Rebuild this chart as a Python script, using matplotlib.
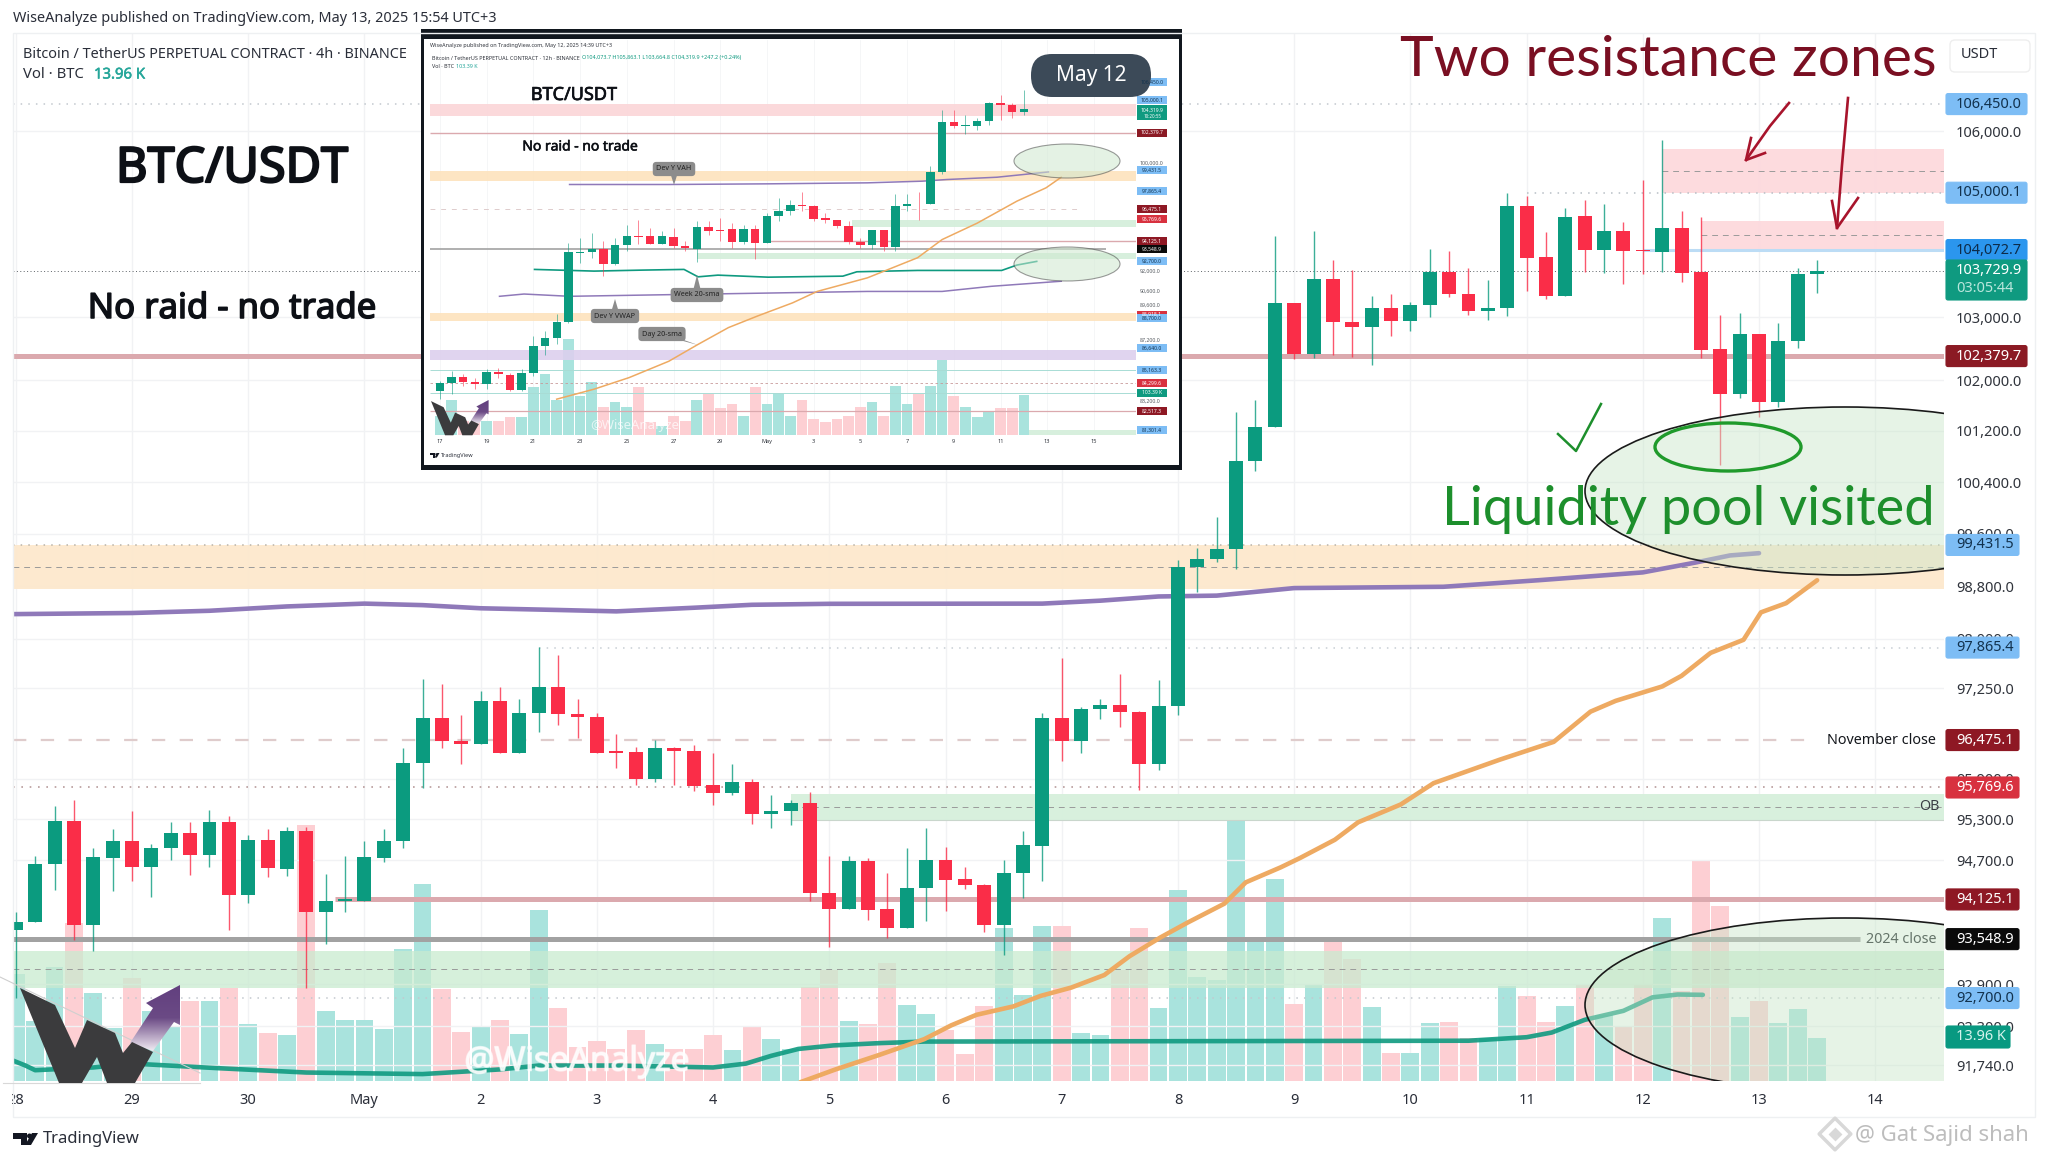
import numpy as np
import matplotlib
matplotlib.use('Agg')
import matplotlib.pyplot as plt
import matplotlib.patheffects as pe
from matplotlib.patches import Rectangle, Ellipse, Polygon, FancyBboxPatch
from matplotlib.colors import LinearSegmentedColormap

plt.rcParams['font.family'] = ['Noto Sans', 'DejaVu Sans']

W, H = 2048, 1160

# main chart, 4h bars, bar 0 is the 29 April tick
first_bar = -6
opens = [93678, 93800, 94636, 95278, 93757, 94736, 94979, 94593, 94873, 95091, 94779, 95253, 94188, 94991, 94574, 95128,
         93941, 94107, 94107, 94736, 94979, 96132, 96805, 96463, 96419, 97059, 96288, 96875, 97275, 96869, 96824, 96300,
         96300, 95895, 96356, 96313, 95807, 95683, 95845, 95371, 95415, 95539, 94225, 93990, 94692, 93984, 93708, 94287,
         94698, 94418, 94337, 93757, 94512, 94910, 96799, 96456, 96939, 97002, 96888, 96119, 96989, 99098, 99214, 99368,
         100736, 101258, 103227, 102412, 103600, 102913, 102849, 103142, 102940, 103185, 103723, 103371, 103094, 103142,
         104779, 103958, 103328, 104619, 104066, 104379, 104066, 104048, 104434, 103724, 102484, 101785, 102737, 101650,
         102613, 103680]
closes = [93800, 94642, 95278, 93757, 94742, 94979, 94593, 94879, 95091, 94779, 95253, 94188, 94991, 94580, 95128, 93941,
          94107, 94125, 94742, 94979, 96138, 96805, 96456, 96419, 97059, 96288, 96881, 97275, 96862, 96824, 96288, 96288,
          95895, 96356, 96306, 95795, 95683, 95845, 95371, 95421, 95539, 94225, 93990, 94692, 93977, 93708, 94293, 94698,
          94412, 94331, 93757, 94518, 94916, 96799, 96456, 96945, 97002, 96888, 96119, 96989, 99098, 99214, 99374, 100736,
          101258, 103227, 102412, 103606, 102913, 102849, 103142, 102940, 103185, 103723, 103371, 103094, 103147, 104779,
          103947, 103328, 104613, 104072, 104379, 104054, 104054, 104434, 103712, 102472, 101785, 102737, 101650, 102613,
          103693, 103730]
highs = [93941, 94761, 95490, 95589, 94873, 95153, 95427, 94935, 95265, 95265, 95434, 95353, 95072, 95153, 95184, 95184,
         94499, 94761, 94979, 95153, 96350, 97389, 97319, 96856, 97205, 97275, 97084, 97878, 97751, 97097, 96875, 96570,
         96369, 96475, 96369, 96400, 96275, 96113, 95901, 95652, 95589, 95701, 94761, 94767, 94730, 94505, 94879, 95172,
         94892, 94605, 94356, 94705, 95122, 96875, 97713, 96970, 97084, 97459, 96907, 97376, 99207, 99380, 99863, 101492,
         101692, 104304, 103227, 104373, 103915, 103755, 103334, 103361, 103238, 104090, 104064, 103782, 103595, 104992,
         104944, 104368, 104747, 104877, 104809, 104533, 105200, 105860, 104705, 104613, 103030, 103061, 102737, 102910,
         103785, 103920]
lows = [92700, 93800, 94262, 93543, 93372, 94250, 94387, 94156, 94705, 94480, 94605, 93684, 94076, 94456, 94468, 92850,
        93483, 93941, 94107, 94674, 94873, 95757, 96356, 96119, 96419, 96288, 96288, 96589, 96704, 96513, 96275, 96063,
        95807, 95851, 95807, 95714, 95515, 95652, 95228, 95178, 95209, 94107, 93440, 93990, 93831, 93561, 93708, 93818,
        93959, 94275, 93653, 93325, 94144, 94387, 96163, 96275, 96793, 96666, 95726, 96025, 96843, 98705, 99169, 99060,
        100576, 101258, 102333, 102349, 102396, 102360, 102240, 102700, 102785, 103000, 103318, 103040, 102945, 103014,
        103408, 103291, 103328, 103724, 103712, 103527, 103681, 103724, 103564, 102350, 100666, 101723, 101416, 101584,
        102509, 103381]
volumes = [34.6, 19.4, 36.7, 50.9, 28.2, 17.0, 33.1, 22.4, 17.7, 25.8, 25.8, 29.9, 18.3, 15.5, 14.9, 82.6,
           22.7, 19.6, 19.8, 16.6, 42.4, 63.6, 29.5, 15.8, 17.7, 19.8, 15.2, 55.0, 23.5, 10.9, 13.0, 10.2,
           16.3, 12.0, 10.2, 10.4, 14.9, 10.0, 17.4, 13.4, 10.2, 30.3, 35.9, 19.3, 18.3, 38.0, 24.4, 21.7,
           16.3, 8.8, 24.0, 49.2, 27.6, 50.0, 50.0, 15.5, 14.7, 35.9, 49.2, 23.5, 61.4, 33.5, 32.5, 84.2,
           46.2, 65.2, 24.9, 31.3, 46.3, 39.2, 23.7, 9.1, 9.1, 18.6, 18.9, 13.9, 13.9, 30.5, 27.4, 19.1,
           24.2, 31.3, 21.4, 17.7, 30.9, 52.6, 29.0, 70.7, 56.2, 20.5, 25.9, 18.7, 23.1, 13.96]

day_ticks = [-6, 0, 6, 12, 18, 24, 30, 36, 42, 48, 54, 60, 66, 72, 78, 84, 90]
day_labels = ['28', '29', '30', 'May', '2', '3', '4', '5', '6', '7', '8', '9', '10', '11', '12', '13', '14']

price_ticks = [106000, 103000, 102000, 101200, 100400, 99600, 98800, 98000, 97250, 95900, 95300, 94700, 92900, 92300, 91740]
price_tick_labels = ['106,000.0', '103,000.0', '102,000.0', '101,200.0', '100,400.0', '99,600.0', '98,800.0', '98,000.0',
                     '97,250.0', '95,900.0', '95,300.0', '94,700.0', '92,900.0', '92,300.0', '91,740.0']

vah_x = [-6.5, 0, 4, 8, 12, 15, 18, 22, 25, 29, 32, 36, 47, 50, 53, 56, 60, 67.7, 72.6, 78, 80.7, 82.5, 84]
vah_y = [98372, 98390, 98424, 98490, 98533, 98510, 98462, 98436, 98415, 98470, 98515, 98530, 98533, 98578, 98642, 98655,
         98770, 98790, 98890, 99010, 99160, 99270, 99305]
week_x = [-6.5, -5.5, -5, -2, 0, 4.5, 9, 15, 19, 21, 25, 30, 31.7, 33, 34.4, 36.2, 38.6, 40.9, 69, 72, 73.3, 75, 77, 78.5, 79.8, 81.1]
week_y = [91847, 91737, 91671, 91710, 91765, 91699, 91638, 91616, 91682, 91737, 91737, 91710, 91765, 91875, 91973, 92023,
          92056, 92078, 92090, 92140, 92207, 92388, 92517, 92710, 92751, 92746]
day_sma_x = [34.5, 36.3, 38.6, 40.9, 42.3, 43.6, 45.5, 46.9, 48.5, 50.2, 51.5, 53.1, 54.5, 56.4, 57.5, 59.3, 60.3, 62.1, 63.3,
             65.5, 67.2, 70.6, 73.4, 75.3, 76.6, 79, 80, 81.5, 83.2, 84.1, 85.4, 87]
day_sma_y = [91500, 91680, 91890, 92112, 92310, 92460, 92580, 92730, 92851, 93031, 93302, 93574, 93789, 94064, 94374, 94593,
             94730, 94998, 95255, 95518, 95834, 96181, 96448, 96900, 97062, 97278, 97438, 97785, 97983, 98400, 98540, 98890]

# price levels
orange_zone = (99431.5, 98760, 99100)
ob_zone = (95670, 95296, 95484)
low_green_zone = (93374, 92850, 93121)
red_zone_1 = (105710, 105000, 105352)
red_zone_2 = (104539, 104072, 104312)

tag_prices = [106450.0, 105000.1, 104072.7, 102379.7, 99431.5, 97865.4, 96475.1, 95769.6, 94125.1, 93548.9, 92700.0]
tag_texts = ['106,450.0', '105,000.1', '104,072.7', '102,379.7', '99,431.5', '97,865.4', '96,475.1', '95,769.6', '94,125.1', '93,548.9', '92,700.0']
tag_colors = ['#7dbdf5', '#7dbdf5', '#2b96ee', '#8b1a24', '#7dbdf5', '#7dbdf5', '#8e1824', '#d8313f', '#8e1824', '#0a0a0a', '#7dbdf5']
tag_inks = ['#12324e', '#12324e', '#0d2c4a', 'white', '#12324e', '#12324e', 'white', 'white', 'white', 'white', '#12324e']

# inset chart, 12h bars
ins_opens = [83820, 84338, 84727, 84425, 84252, 85030, 84878, 83906, 84965, 86776, 87322, 88437, 93260, 93308, 93524, 92446,
             93811, 94506, 94482, 93955, 94458, 93763, 93548, 95176, 94961, 94985, 94075, 94985, 94003, 95995, 96355, 96836,
             96759, 95800, 95674, 95272, 94099, 93859, 94961, 93691, 96709, 96911, 96886, 99284, 103210, 102891, 102891, 103290,
             104753, 104593, 104008]
ins_closes = [84360, 84727, 84425, 84252, 85030, 84900, 83906, 84986, 86776, 87345, 88437, 93308, 93308, 93524, 92446, 93835,
              94482, 94458, 93955, 94482, 93739, 93596, 95176, 94841, 94841, 94075, 94985, 94003, 95995, 96355, 96810, 96759,
              95775, 95674, 95272, 94075, 93859, 94961, 93691, 96734, 96911, 96861, 99310, 103210, 102891, 102971, 103343, 104753,
              104593, 104035, 104301]
ins_highs = [84468, 85116, 84900, 84684, 85224, 85332, 85008, 85224, 87459, 87800, 88938, 94003, 94362, 94721, 94123, 94362,
             95320, 95699, 95080, 94841, 95080, 94123, 95573, 95573, 95825, 95447, 95320, 95320, 96204, 97340, 97163, 97769,
             96836, 96204, 95699, 95573, 94362, 94841, 94721, 97592, 97592, 97769, 99739, 104221, 104221, 103822, 103556, 104833,
             105418, 104753, 105810]
ins_lows = [83280, 83604, 84144, 83928, 83928, 84684, 83820, 83820, 84792, 86208, 86890, 88369, 92566, 92925, 91608, 92398,
            93404, 93883, 93883, 93883, 93644, 93404, 92638, 94554, 94123, 93644, 93883, 92806, 94003, 95573, 96078, 96330,
            95573, 95447, 95080, 93883, 93644, 93524, 93404, 93404, 96330, 95699, 96861, 99158, 102758, 102279, 102625, 103024,
            103423, 103556, 103822]
ins_volumes = [50, 89, 37, 33, 37, 37, 46, 46, 123, 157, 89, 246, 101, 136, 71, 84, 71, 123, 33, 24, 50, 37, 90, 106, 69, 80,
               50, 123, 80, 108, 50, 89, 41, 33, 41, 50, 71, 84, 50, 126, 80, 106, 126, 194, 101, 71, 46, 58, 69, 69, 103.4]
ins_day_ticks = [0, 4, 8, 12, 16, 20, 24, 28, 32, 36, 40, 44, 48, 52, 56]
ins_day_labels = ['17', '19', '21', '23', '25', '27', '29', 'May', '3', '5', '7', '9', '11', '13', '15']

ins_vah_x = [11.1, 19.6, 28.1, 36.6, 41.3, 43.4, 47.7, 52.1]
ins_vah_y = [98350, 98350, 98400, 98476, 98603, 98729, 98906, 99310]
ins_week_x = [8.1, 13.2, 17.4, 20.9, 22.1, 23.8, 28.1, 34.5, 35.7, 40.9, 48.1, 49.4, 51.1]
ins_week_y = [92087, 91967, 92039, 92087, 91560, 91680, 91536, 91608, 91919, 92015, 92015, 92398, 92662]
ins_vwap_x = [5.1, 7.2, 11.1, 19.6, 28.1, 36.6, 43, 47.2, 53.2]
ins_vwap_y = [90189, 90348, 90189, 90303, 90416, 90530, 90530, 90889, 91249]
ins_day_x = [10, 13.2, 16.2, 19.6, 22.1, 24.7, 27.2, 30.2, 32.3, 36.6, 40.9, 43, 46, 49.4, 51.9, 53.2]
ins_day_y = [83280, 83928, 84684, 85764, 86890, 88028, 88824, 89734, 90530, 91488, 92925, 94242, 95447, 97087, 98098, 98906]

ins_tag_prices = [106450, 105000.1, 102379.7, 99431.5, 97865.4, 96475.1, 95769.6, 94125.1, 93548.9, 92700, 88918.1, 88700,
                  86640, 85163.3, 84299.6, 82517.3, 81301.4]
ins_tag_texts = ['106,450.0', '105,000.1', '102,379.7', '99,431.5', '97,865.4', '96,475.1', '95,769.6', '94,125.1', '93,548.9',
                 '92,700.0', '88,918.1', '88,700.0', '86,640.0', '85,163.3', '84,299.6', '82,517.3', '81,301.4']
ins_tag_colors = ['#7dbdf5', '#7dbdf5', '#8b1a24', '#7dbdf5', '#7dbdf5', '#8e1824', '#d8313f', '#8e1824', '#0a0a0a', '#7dbdf5',
                  '#d8313f', '#7dbdf5', '#7dbdf5', '#7dbdf5', '#d8313f', '#8e1824', '#7dbdf5']
ins_plain_ticks = [100000, 92000, 90600, 89600, 87200, 83200]
ins_plain_labels = ['100,000.0', '92,000.0', '90,600.0', '89,600.0', '87,200.0', '83,200.0']

GREEN = '#0b9b7f'
RED = '#fa2d48'
TEAL_VOL = '#a9e3dd'
PINK_VOL = '#fdcfd3'
LEVEL_RED = '#dba9ae'
HAND_RED = '#7a0f22'
HAND_GREEN = '#1d8f2c'

fig = plt.figure(figsize=(W / 100, H / 100), dpi=100, facecolor='white')


def px_axes(x0, y0, x1, y1, **kw):
    # axes placed with pixel coordinates, y going down
    return fig.add_axes([x0 / W, 1 - y1 / H, (x1 - x0) / W, (y1 - y0) / H], **kw)


def heavy(t, w):
    # Noto Sans has no bold file here, so thicken the regular glyphs
    t.set_path_effects([pe.withStroke(linewidth=w, foreground=t.get_color())])
    return t


def candles(a, xs, o, h, l, c, width, lw):
    for x, op, hi, lo, cl in zip(xs, o, h, l, c):
        col = GREEN if cl >= op else RED
        a.vlines(x, lo, hi, color=col, lw=lw, alpha=0.8, zorder=5)
        a.bar(x, max(abs(cl - op), 25), bottom=min(op, cl), width=width, color=col, lw=0, zorder=6)


def logo(a, ox, oy, s):
    w_pts = [(20, 988), (55, 1005), (75, 1048), (87, 1020), (115, 1033), (123, 1053), (132, 1042), (153, 1052),
             (135, 1083), (107, 1083), (97, 1057), (82, 1083), (59, 1083)]
    arrow = [(180, 985), (146, 1003), (153, 1008), (130, 1043), (153, 1051), (174, 1022), (180, 1025)]
    tr = lambda pts: [(ox + (x - 20) * s, oy + (y - 985) * s) for x, y in pts]
    cm = LinearSegmentedColormap.from_list('arr', ['#62407f', '#6b4a85', '#f0eaf2'])
    img = a.imshow(np.linspace(0, 1, 64).reshape(-1, 1), cmap=cm, aspect='auto', zorder=20,
                   extent=(ox + 110 * s, ox + 160 * s, oy + 66 * s, oy), origin='upper')
    img.set_clip_path(Polygon(tr(arrow), transform=a.transData))
    a.add_patch(Polygon(tr(w_pts), color='#3b3b3d', lw=0, zorder=21))


def tv_logo(a, x, y, s, size):
    a.add_patch(Polygon([(x, y), (x + 14 * s, y), (x + 14 * s, y + 12 * s), (x + 8 * s, y + 12 * s), (x + 8 * s, y + 6 * s), (x, y + 6 * s)], color='#131722', lw=0))
    a.add_patch(Ellipse((x + 16.5 * s, y + 3 * s), 5 * s, 5 * s, color='#131722', lw=0))
    a.add_patch(Polygon([(x + 19 * s, y), (x + 25 * s, y), (x + 18 * s, y + 12 * s), (x + 12 * s, y + 12 * s)], color='#131722', lw=0))
    a.text(x + 30 * s, y + 6 * s, 'TradingView', fontsize=size, color='#2a2e39', va='center', ha='left')


# volume pane below, price pane above it
PANE = (12.5, 33, 1944, 1081)
xlim = (-6.17, 93.55)
ax_vol = px_axes(*PANE, zorder=1)
ax = px_axes(*PANE, zorder=2, facecolor='none')

bars = np.arange(first_bar, first_bar + len(opens))
vol_cols = [TEAL_VOL if c >= o else PINK_VOL for o, c in zip(opens, closes)]
ax_vol.bar(bars, volumes, width=0.92, color=vol_cols, lw=0, zorder=2)
ax_vol.set_xlim(*xlim)
ax_vol.set_ylim(0, 337.5)
ax_vol.set_yticks([])
ax_vol.set_xticks(day_ticks)
ax_vol.set_xticklabels([])
ax_vol.tick_params(length=0)
ax_vol.grid(axis='x', color='#f1f2f4', lw=1)
ax_vol.set_axisbelow(True)
for s in ax_vol.spines.values():
    s.set_visible(False)

ax.set_yscale('log')
ax.set_xlim(*xlim)
ax.set_ylim(91518, 107627)
ax.minorticks_off()
ax.yaxis.tick_right()
ax.set_yticks(price_ticks)
ax.set_yticklabels(price_tick_labels, fontsize=10.5, color='#30343c')
ax.tick_params(axis='y', which='both', length=0, pad=8.5)
ax.tick_params(axis='y', which='minor', labelright=False)
ax.set_xticks(day_ticks)
ax.set_xticklabels(day_labels, fontsize=10.5, color='#2a2e39')
ax.tick_params(axis='x', length=0, pad=9)
ax.grid(axis='y', color='#f1f2f4', lw=1)
ax.set_axisbelow(True)
for s in ax.spines.values():
    s.set_visible(False)

DOT = (0, (1, 4))
FINE = (0, (1, 2.5))
# zones
for z, x0, col in [(orange_zone, xlim[0], '#fde8cd'), (ob_zone, 34, '#d6f0dc'), (low_green_zone, xlim[0], '#c9ebd0'),
                   (red_zone_1, 79, '#fdd9dd'), (red_zone_2, 81, '#fdd9dd')]:
    ax.fill_between([x0, xlim[1]], z[1], z[0], color=col, alpha=0.75 if col == '#c9ebd0' else 0.95, lw=0, zorder=1.5)
    ax.hlines(z[2], x0, xlim[1], color='#9a9a9a', lw=0.7, linestyles=(0, (6, 5)), zorder=1.6)
ax.hlines(ob_zone[1], 34, xlim[1], color='#c9d6cc', lw=0.8, zorder=1.6)
# levels
ax.hlines(106450, xlim[0], xlim[1], color='#c2c8ce', lw=1.1, linestyles=DOT, zorder=1.7)
ax.hlines(105000.1, 72, xlim[1], color='#b7bec5', lw=1.1, linestyles=DOT, zorder=1.7)
ax.hlines(104072.7, 78, xlim[1], color='#bcdcf5', lw=2.2, zorder=1.7)
ax.hlines(103729.9, xlim[0], xlim[1], color='#5c6166', lw=0.7, linestyles=FINE, zorder=1.7)
ax.hlines(102379.7, xlim[0], xlim[1], color=LEVEL_RED, lw=3.6, zorder=1.7)
ax.hlines(99431.5, xlim[0], xlim[1], color='#b9b3a8', lw=1.1, linestyles=DOT, zorder=1.7)
ax.hlines(97865.4, 21, xlim[1], color='#c7ced4', lw=1.1, linestyles=DOT, zorder=1.7)
ax.hlines(96475.1, xlim[0], 86.5, color='#dfcccc', lw=1.6, linestyles=(0, (6, 6.5)), zorder=1.7)
ax.hlines(95769.6, xlim[0], xlim[1], color='#b89b9b', lw=1.2, linestyles=DOT, zorder=1.7)
ax.hlines(94125.1, 10.5, xlim[1], color=LEVEL_RED, lw=3.6, zorder=1.7)
ax.hlines(93548.9, xlim[0], 89.2, color='#a2a2a2', lw=3.6, zorder=1.7)
ax.hlines(92700, xlim[0], xlim[1], color='#c2c8ce', lw=1.1, linestyles=DOT, zorder=1.7)

# moving lines
ax.plot(vah_x, vah_y, color='#8f79b9', lw=3.3, solid_capstyle='round', solid_joinstyle='round', zorder=4)
ax.plot(week_x, week_y, color='#0f9a80', lw=3.3, solid_capstyle='round', solid_joinstyle='round', zorder=4, alpha=0.9)
ax.plot(day_sma_x, day_sma_y, color='#eeaa62', lw=3.3, solid_capstyle='round', solid_joinstyle='round', zorder=4)

candles(ax, bars, opens, highs, lows, closes, 0.72, 1.0)


def y_of(a, p):
    return H - a.transData.transform((0, p))[1]


# inset chart, frame first
ov_back = px_axes(0, 0, W, H, zorder=3, facecolor='none')
ov_back.set_xlim(0, W)
ov_back.set_ylim(H, 0)
ov_back.axis('off')
ov_back.add_patch(Rectangle((421, 29), 765 - 4, 441, color='#11171e', lw=0))
ov_back.add_patch(Rectangle((424, 39), 755, 426, color='white', lw=0))

INS = (430, 40, 1136, 435)
ins_xlim = (-0.85, 59.6)
axi_vol = px_axes(*INS, zorder=4)
axi = px_axes(*INS, zorder=5, facecolor='none')
ins_bars = np.arange(len(ins_opens))
axi_vol.bar(ins_bars, ins_volumes, width=0.92, lw=0,
            color=[TEAL_VOL if c >= o else PINK_VOL for o, c in zip(ins_opens, ins_closes)])
axi_vol.set_xlim(*ins_xlim)
axi_vol.set_ylim(0, 1017)
axi_vol.set_xticks(ins_day_ticks)
axi_vol.set_xticklabels([])
axi_vol.set_yticks([])
axi_vol.tick_params(length=0)
axi_vol.grid(axis='x', color='#f4f5f6', lw=0.6)
axi_vol.set_axisbelow(True)
for s in axi_vol.spines.values():
    s.set_visible(False)

axi.set_yscale('log')
axi.set_xlim(*ins_xlim)
axi.set_ylim(81000, 110000)
axi.minorticks_off()
axi.yaxis.tick_right()
axi.set_yticks(ins_plain_ticks)
axi.set_yticklabels(ins_plain_labels, fontsize=3.8, color='#555a60')
axi.tick_params(axis='y', which='both', length=0, pad=2.5)
axi.set_xticks(ins_day_ticks)
axi.set_xticklabels(ins_day_labels, fontsize=4, color='#30343c')
axi.tick_params(axis='x', length=0, pad=3)
for s in axi.spines.values():
    s.set_visible(False)

for top, bot, x0, col in [(104673, 103689, ins_xlim[0], '#fbd5d8'), (99370, 98580, ins_xlim[0], '#fde3bd'),
                          (89060, 88470, ins_xlim[0], '#fde3bd'), (95650, 95200, 35.3, '#d3eeda'),
                          (93300, 92800, 22, '#d3eeda'), (86530, 85860, ins_xlim[0], '#ddd0ee'),
                          (81300, 81000, 50.4, '#d3eeda')]:
    axi.fill_between([x0, ins_xlim[1]], bot, top, color=col, lw=0, alpha=0.9, zorder=1.5)
axi.hlines(102379.7, ins_xlim[0], ins_xlim[1], color=LEVEL_RED, lw=1, zorder=1.7)
axi.hlines(94125.1, 28, ins_xlim[1], color=LEVEL_RED, lw=1, zorder=1.7)
axi.hlines(93548.9, ins_xlim[0], 57, color='#a2a2a2', lw=1.2, zorder=1.7)
axi.hlines(96475.1, ins_xlim[0], 55, color='#dfcccc', lw=0.7, linestyles=(0, (5, 6)), zorder=1.7)
axi.hlines(85163.3, ins_xlim[0], ins_xlim[1], color='#a8dcd5', lw=0.7, zorder=1.7)
axi.hlines(84299.6, ins_xlim[0], ins_xlim[1], color='#c89a9a', lw=0.6, linestyles=(0, (3, 3)), zorder=1.7)
axi.hlines(83700, ins_xlim[0], ins_xlim[1], color='#a8dcd5', lw=0.7, zorder=1.7)
axi.hlines(82517.3, ins_xlim[0], ins_xlim[1], color=LEVEL_RED, lw=0.9, zorder=1.7)
axi.plot(ins_vah_x, ins_vah_y, color='#8f79b9', lw=1.1, zorder=4)
axi.plot(ins_week_x, ins_week_y, color='#0f9a80', lw=1.2, zorder=4)
axi.plot(ins_vwap_x, ins_vwap_y, color='#8f79b9', lw=1.1, zorder=4)
axi.plot(ins_day_x, ins_day_y, color='#eeaa62', lw=1.1, zorder=4)
candles(axi, ins_bars, ins_opens, ins_highs, ins_lows, ins_closes, 0.72, 0.5)

# everything drawn on top, in picture pixels
ov = px_axes(0, 0, W, H, zorder=7, facecolor='none')
ov.set_xlim(0, W)
ov.set_ylim(H, 0)
ov.axis('off')

# price tags of the main chart
for p, t, c, ink in zip(tag_prices, tag_texts, tag_colors, tag_inks):
    y = y_of(ax, p)
    right = 2028 if p >= 100000 else 2020
    ov.add_patch(FancyBboxPatch((1946, y - 10.5), right - 1947, 21, boxstyle='round,pad=0,rounding_size=2', color=c, lw=0.8))
    ov.text(1956, y, t, fontsize=10.5, color=ink, va='center', ha='left')
ov.add_patch(FancyBboxPatch((1946, 260), 81, 40, boxstyle='round,pad=0,rounding_size=2', color='#0f9a80', lw=0.8))
ov.text(1956, 271, '103,729.9', fontsize=10.5, color='white', va='center', ha='left')
ov.text(1956, 289, '03:05:44', fontsize=10.5, color='#b9e6dc', va='center', ha='left')
ov.add_patch(FancyBboxPatch((1946, 1026), 64, 22, boxstyle='round,pad=0,rounding_size=2', color='#089981', lw=0.8))
ov.text(1956, 1037, '13.96 K', fontsize=10.5, color='#d5f3ec', va='center', ha='left')
ov.add_patch(FancyBboxPatch((1950, 40), 80, 32, boxstyle='round,pad=0,rounding_size=5', fc='white', ec='#eeeeee', lw=1))
ov.text(1961, 55, 'USDT', fontsize=10.5, color='#2a2e39', va='center', ha='left')
ov.add_patch(Rectangle((12.5, 33), 2022.5, 1084, fc='none', ec='#eef0f2', lw=1))
ov.add_patch(Rectangle((0, 1084), 12, 32, color='white', lw=0))

ov.text(1936, y_of(ax, 96475.1), 'November close', fontsize=10.3, color='#14171c', va='center', ha='right')
ov.text(1936, y_of(ax, 93548.9), '2024 close', fontsize=10.3, color='#14171c', va='center', ha='right')
ov.text(1939, y_of(ax, ob_zone[2]), 'OB', fontsize=10.3, color='#3a3e44', va='center', ha='right')

# header and footer
ov.text(13, 19, 'WiseAnalyze published on TradingView.com, May 13, 2025 15:54 UTC+3', fontsize=10.4, color='#2a2e39', va='center')
ov.text(23, 54, 'Bitcoin / TetherUS PERPETUAL CONTRACT · 4h · BINANCE', fontsize=10.4, color='#2a2e39', va='center')
ov.text(23, 75, 'Vol · BTC', fontsize=10.7, color='#2a2e39', va='center')
heavy(ov.text(94, 75, '13.96 K', fontsize=10.7, color='#26a69a', va='center'), 0.4)
heavy(ov.text(232, 169, 'BTC/USDT', fontsize=35, color='#0d1016', va='center', ha='center'), 1.6)
heavy(ov.text(232, 309, 'No raid - no trade', fontsize=25, color='#0d1016', va='center', ha='center'), 1.1)
tv_logo(ov, 13, 1133, 1.0, 12)

# annotations on the right
clip = Rectangle((12.5, 33), 1931.5, 1048, transform=ov.transData)
for yc, h in [(491, 168), (1005, 174)]:
    ell = Ellipse((1845, yc), 520, h, fc='none', ec='#1a1a1a', lw=1.2, zorder=9)
    fill = Ellipse((1845, yc), 520, h, fc='#c8e6c9', alpha=0.45, lw=0, zorder=8)
    ov.add_patch(fill)
    ov.add_patch(ell)
    ell.set_clip_path(clip)
    fill.set_clip_path(clip)
ov.add_patch(Ellipse((1728, 447), 146, 48, fc='none', ec='#1f9a2b', lw=2.4, zorder=10))
ov.plot([1558, 1576, 1601], [434, 451, 404], color=HAND_GREEN, lw=1.8, zorder=10)
ov.plot([1789, 1770, 1746], [103, 126, 160], color='#a8142c', lw=1.9, zorder=10)
ov.plot([1751, 1746, 1765], [138, 160, 153], color='#a8142c', lw=1.9, zorder=10)
ov.plot([1848, 1842, 1837], [98, 165, 228], color='#a8142c', lw=1.9, zorder=10)
ov.plot([1832, 1837, 1858], [201, 228, 198], color='#a8142c', lw=1.9, zorder=10)
ov.text(1668, 60, 'Two resistance zones', fontsize=41, color=HAND_RED, family=['Lato', 'Noto Sans'],
        va='center', ha='center', zorder=10)
ov.text(1688, 510, 'Liquidity pool visited', fontsize=39, color=HAND_GREEN, family=['Lato', 'Noto Sans'],
        va='center', ha='center', zorder=10)

# logo and watermarks of the main chart
ov.plot([0, 200], [977, 1073], color='#cfcfcf', lw=0.8, zorder=7)
ov.plot([3, 200], [1083, 1083], color='#d8d8d8', lw=0.8, zorder=7)
logo(ov, 20, 985, 1.0)
ov.set_xlim(0, W)
ov.set_ylim(H, 0)
heavy(ov.text(577, 1062, '@WiseAnalyze', fontsize=24, color='white', alpha=0.65, va='center', ha='center', zorder=7), 1.2)
ov.scatter([1835], [1134], marker='D', s=260, fc='none', ec='#d8d8d8', lw=2.5)
ov.scatter([1835], [1134], marker='D', s=50, c='#d8d8d8', lw=0)
ov.text(1855, 1135, '@ Gat Sajid shah', fontsize=16, color='#bdbdbd', va='center', ha='left')

# inset tags and texts
for p, t, c in zip(ins_tag_prices, ins_tag_texts, ins_tag_colors):
    y = y_of(axi, p)
    ov.add_patch(Rectangle((1137, y - 4), 30, 8, color=c, lw=0))
    ov.text(1152, y, t, fontsize=3.6, color='white' if c != '#7dbdf5' else '#12324e', va='center', ha='center')
ov.add_patch(Rectangle((1137, 105), 30, 15, color='#0f9a80', lw=0))
ov.text(1152, 110, '104,319.9', fontsize=3.6, color='white', va='center', ha='center')
ov.text(1152, 116, '10:20:55', fontsize=3.2, color='white', va='center', ha='center')
ov.add_patch(Rectangle((1137, y_of(axi, 83700) - 4), 30, 8, color='#0f9a80', lw=0))
ov.text(1152, y_of(axi, 83700), '103.39 K', fontsize=3.6, color='white', va='center', ha='center')

ov.text(430, 46, 'WiseAnalyze published on TradingView.com, May 12, 2025 14:39 UTC+3', fontsize=3.9, color='#30343c', va='center')
ov.text(432, 58, 'Bitcoin / TetherUS PERPETUAL CONTRACT · 12h · BINANCE', fontsize=3.9, color='#30343c', va='center')
ov.text(582, 58, 'O104,073.7 H105,863.1 L103,664.8 C104,319.9 +247.2 (+0.24%)', fontsize=3.9, color='#0f9a80', va='center')
ov.text(432, 66, 'Vol · BTC', fontsize=3.9, color='#30343c', va='center')
ov.text(456, 66, '103.39 K', fontsize=3.9, color='#26a69a', va='center')
heavy(ov.text(574, 95, 'BTC/USDT', fontsize=13, color='#0d1016', va='center', ha='center'), 0.5)
heavy(ov.text(580, 147, 'No raid - no trade', fontsize=10, color='#0d1016', va='center', ha='center'), 0.4)
ov.add_patch(FancyBboxPatch((1031, 54), 120, 43, boxstyle='round,pad=0,rounding_size=21', color='#3c4a58', lw=0))
ov.text(1091, 75, 'May 12', fontsize=15, color='white', va='center', ha='center')
for yc in [161, 264]:
    ov.add_patch(Ellipse((1067, yc), 106, 34, fc='#cfe8cf', ec='#4a4a4a', alpha=0.55, lw=0.8))

callouts = ['Dev Y VAH', 'Week 20-sma', 'Dev Y VWAP', 'Day 20-sma']
callout_xy = [(674, 169), (697, 295), (615, 316), (662, 334)]
callout_tip = [(674, 185), (697, 275), (615, 299), (698, 345)]
for t, (cx, cy), (tx, ty) in zip(callouts, callout_xy, callout_tip):
    ov.add_patch(Polygon([(cx - 5, cy), (cx + 5, cy), (tx, ty)], color='#8c8c8c', lw=0))
    ov.text(cx, cy, t, fontsize=5.2, color='#222222', va='center', ha='center',
            bbox=dict(boxstyle='round,pad=0.5', fc='#8c8c8c', ec='none'))

logo(ov, 431, 400, 0.36)
ov.set_xlim(0, W)
ov.set_ylim(H, 0)
ov.text(635, 426, '@WiseAnalyze', fontsize=9.5, color='white', alpha=0.7, va='center', ha='center')
tv_logo(ov, 430, 453, 0.38, 4)

fig.savefig('out.png', dpi=100, facecolor='white')
